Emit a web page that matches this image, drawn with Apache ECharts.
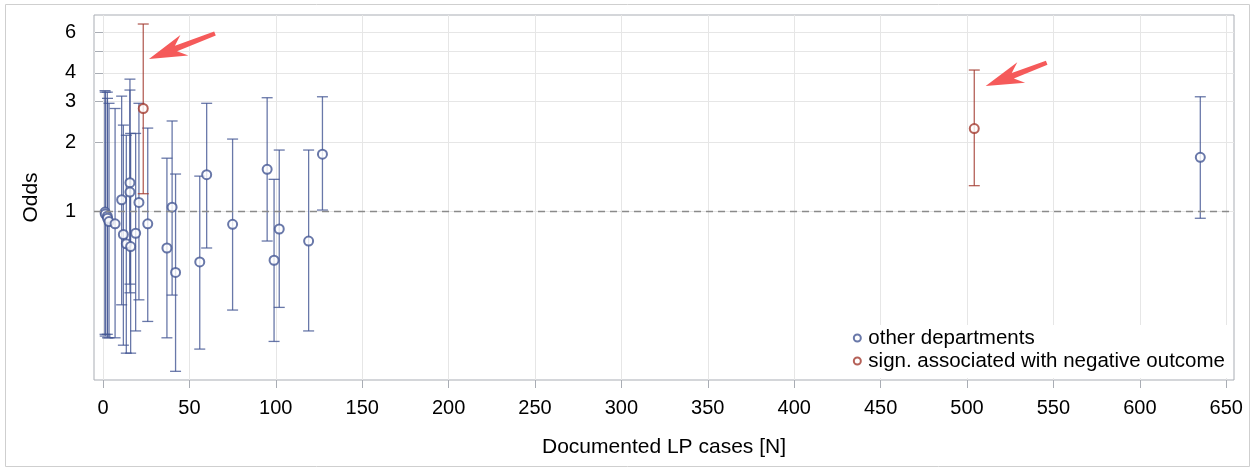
<!DOCTYPE html>
<html><head><meta charset="utf-8">
<script src="https://cdn.jsdelivr.net/npm/echarts@6/dist/echarts.min.js"></script>
<style>html,body{margin:0;padding:0;background:#fff}#c{width:1255px;height:471px}</style>
</head><body><div id="c"></div>
<script>
// ---- data ----
const otherX     = [1.2,  1.3,  2.5,  2.6,  3.5,  7,    10.8, 11.8, 13.5, 15.6, 15.6, 16,   18.9, 20.8, 25.9, 37,   40,   42,   56,   60,   75,   95,   99,   102,  119,  127,  635];
const otherOdds  = [0.99, 0.97, 0.95, 0.93, 0.90, 0.88, 1.12, 0.79, 0.72, 1.33, 1.21, 0.70, 0.80, 1.09, 0.88, 0.69, 1.04, 0.54, 0.60, 1.44, 0.875,1.52, 0.61, 0.835,0.74, 1.77, 1.715];
const otherLower = [0.29, 0.285,0.29, 0.28, 0.28, 0.28, 0.39, 0.26, 0.24, 0.44, 0.48, 0.24, 0.30, 0.41, 0.33, 0.28, 0.43, 0.20, 0.25, 0.69, 0.37, 0.74, 0.27, 0.38, 0.30, 1.01, 0.93];
const otherUpper = [3.35, 3.3,  3.3,  3.1,  2.95, 2.8,  3.17, 2.37, 2.14, 3.76, 3.37, 2.18, 2.18, 2.95, 2.30, 1.70, 2.47, 1.45, 1.42, 2.95, 2.06, 3.12, 1.375,1.845,1.845,3.15, 3.15];

const signX     = [23.3, 504.2];
const signOdds  = [2.80, 2.29];
const signLower = [1.19, 1.29];
const signUpper = [6.54, 4.12];

const seriesNames = ['other departments', 'sign. associated with negative outcome'];
const xTicks  = [0, 50, 100, 150, 200, 250, 300, 350, 400, 450, 500, 550, 600, 650];
const yTicks  = [1, 2, 3, 4, 5, 6];
const yLabels = [1, 2, 3, 4, 6];
const refOdds = 1;

// annotation arrows, in data coordinates [x, odds]
const arrowTails = [[64.8, 5.95], [546.1, 4.43]];
const arrowTips  = [[26.6, 4.60], [510.8, 3.51]];

// ---- styling ----
const BLUE = '#445694', RED = '#a23a2e', ARROW = '#f55a5a';
const FONT = '"Liberation Sans", Arial, sans-serif';
const FRAME = '#a9adb4', GRID = '#e6e6e6';

function zip3(a, b, c) { return a.map((v, i) => [v, b[i], c[i]]); }
function zip2(a, b) { return a.map((v, i) => [v, b[i]]); }

function errorBars(color) {
  return function (params, api) {
    const x = api.value(0), lo = api.value(1), hi = api.value(2);
    const a = api.coord([x, lo]), b = api.coord([x, hi]);
    const hw = 5.5;
    const st = { stroke: color, lineWidth: 1.3, opacity: 0.8 };
    return { type: 'group', children: [
      { type: 'line', shape: { x1: a[0], y1: a[1], x2: b[0], y2: b[1] }, style: st },
      { type: 'line', shape: { x1: a[0] - hw, y1: a[1], x2: a[0] + hw, y2: a[1] }, style: st },
      { type: 'line', shape: { x1: b[0] - hw, y1: b[1], x2: b[0] + hw, y2: b[1] }, style: st }
    ] };
  };
}

const chart = echarts.init(document.getElementById('c'), null, { renderer: 'canvas' });
chart.setOption({
  animation: false,
  backgroundColor: '#fff',
  textStyle: { fontFamily: FONT, color: '#000' },
  grid: { left: 94, right: 21, top: 15, bottom: 91, show: true, borderColor: FRAME, borderWidth: 1, backgroundColor: 'transparent' },
  xAxis: {
    type: 'value', min: -5.2, max: 654.5,
    name: 'Documented LP cases [N]', nameLocation: 'middle', nameGap: 57,
    nameTextStyle: { fontSize: 21, color: '#000', fontFamily: FONT },
    axisLine: { show: false },
    axisTick: { show: true, customValues: xTicks, length: 8, lineStyle: { color: FRAME } },
    axisLabel: { customValues: xTicks, fontSize: 20, color: '#000', margin: 18, fontFamily: FONT },
    splitLine: { show: true, lineStyle: { color: GRID, width: 1 } }
  },
  yAxis: {
    type: 'log', min: 0.1833, max: 7.16,
    name: 'Odds', nameLocation: 'middle', nameGap: 52, nameRotate: 90,
    nameTextStyle: { fontSize: 21, color: '#000', fontFamily: FONT },
    axisLine: { show: false },
    axisTick: { show: true, customValues: yTicks, length: 8, lineStyle: { color: FRAME } },
    axisLabel: { customValues: yLabels, fontSize: 20, color: '#000', margin: 18, fontFamily: FONT },
    splitLine: { show: true, lineStyle: { color: GRID, width: 1 } },
    minorTick: { show: false }, minorSplitLine: { show: false }
  },
  legend: {
    data: seriesNames, orient: 'vertical', right: 22, bottom: 93,
    backgroundColor: '#fff', padding: [2, 8, 6, 2],
    itemWidth: 12, itemHeight: 7, itemGap: 1,
    textStyle: { fontSize: 20.5, lineHeight: 22, color: '#000', fontFamily: FONT }
  },
  series: [
    { type: 'custom', name: 'ci-other', renderItem: errorBars(BLUE), encode: { x: 0, y: [1, 2] }, data: zip3(otherX, otherLower, otherUpper), z: 2, silent: true },
    { type: 'custom', name: 'ci-sign', renderItem: errorBars(RED), encode: { x: 0, y: [1, 2] }, data: zip3(signX, signLower, signUpper), z: 2, silent: true },
    { type: 'scatter', name: seriesNames[0], data: zip2(otherX, otherOdds), symbol: 'emptyCircle', symbolSize: 9,
      itemStyle: { color: BLUE, borderColor: BLUE, borderWidth: 1.2 }, z: 3,
      markLine: { silent: true, symbol: 'none', label: { show: false },
        lineStyle: { color: '#8a8a8a', type: [7, 5], width: 1.3 }, data: [{ yAxis: refOdds }] } },
    { type: 'scatter', name: seriesNames[1], data: zip2(signX, signOdds), symbol: 'emptyCircle', symbolSize: 9,
      itemStyle: { color: RED, borderColor: RED, borderWidth: 1.2 }, z: 3 }
  ]
});

function arrowPoints(t, p) {
  const dx = p[0] - t[0], dy = p[1] - t[1], len = Math.hypot(dx, dy);
  const ux = dx / len, uy = dy / len, nx = -uy, ny = ux;
  const headL = 38, headW = 11, shaftW = 2.9, tailW = 2.2, notch = 9;
  const P = (along, side) => [p[0] - ux * along + nx * side, p[1] - uy * along + ny * side];
  return [
    [t[0] + nx * tailW, t[1] + ny * tailW],
    P(headL - notch, shaftW), P(headL, headW), [p[0], p[1]],
    P(headL, -headW), P(headL - notch, -shaftW),
    [t[0] - nx * tailW, t[1] - ny * tailW]
  ];
}
const gfx = [{ type: 'rect', shape: { x: 5.5, y: 4.5, width: 1244, height: 462 }, style: { fill: 'none', stroke: '#cfcfcf', lineWidth: 1 }, z: -1, silent: true }];
arrowTails.forEach((tail, i) => {
  const t = chart.convertToPixel({ gridIndex: 0 }, tail);
  const p = chart.convertToPixel({ gridIndex: 0 }, arrowTips[i]);
  gfx.push({ type: 'polygon', shape: { points: arrowPoints(t, p) }, style: { fill: ARROW }, z: 100, silent: true });
});
chart.setOption({ graphic: gfx });
</script></body></html>
